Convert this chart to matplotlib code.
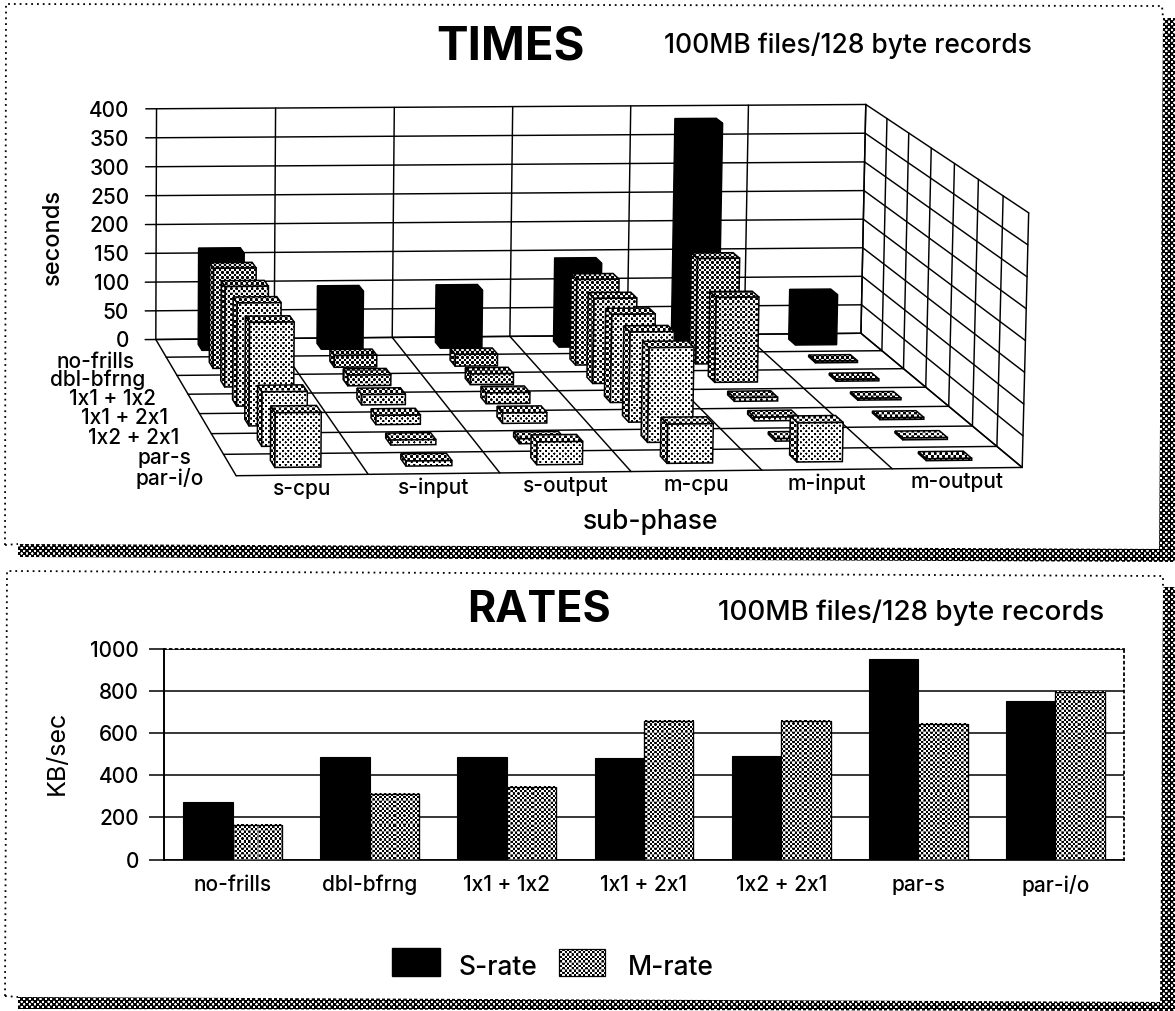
import numpy as np
import matplotlib
matplotlib.use("Agg")
import matplotlib.pyplot as plt
from matplotlib.patches import Polygon, Rectangle

plt.rcParams['font.family'] = ['Inter', 'Liberation Sans', 'DejaVu Sans']
plt.rcParams['font.weight'] = 'medium'

# ------------- data -------------
configs = ['no-frills', 'dbl-bfrng', '1x1 + 1x2', '1x1 + 2x1', '1x2 + 2x1', 'par-s', 'par-i/o']
sub_phases = ['s-cpu', 's-input', 's-output', 'm-cpu', 'm-input', 'm-output']
s_cpu = [167, 170, 168, 170, 168, 87, 86]
s_input = [100, 20, 18, 17, 15, 8, 8]
s_output = [100, 20, 18, 18, 17, 8, 36]
m_cpu = [145, 146, 143, 146, 147, 152, 62]
m_input = [385, 180, 143, 6, 6, 4, 62]
m_output = [87, 3, 3, 3, 3, 3, 3]
s_rate = [272, 486, 485, 483, 490, 952, 753]
m_rate = [162, 310, 345, 660, 657, 643, 796]
time_ticks = [0, 50, 100, 150, 200, 250, 300, 350, 400]
rate_ticks = [0, 200, 400, 600, 800, 1000]

W, H = 1175, 1011
fig = plt.figure(figsize=(W / 100, H / 100), dpi=100, facecolor='white')
canvas = fig.add_axes([0, 0, 1, 1])
canvas.set_xlim(0, W)
canvas.set_ylim(H, 0)
canvas.axis('off')

# ------------- dither helper -------------
_yy, _xx = np.mgrid[0:H, 0:W] + 0.5


def dither(threshold, period):
    g = np.cos(2 * np.pi * _xx / period) * np.cos(2 * np.pi * _yy / period)
    return np.clip(0.5 - (g - threshold) / 0.35, 0, 1)


def fill_dither(poly_pts, threshold, period, z):
    """Polygon in canvas pixels filled with a halftone."""
    pts = np.asarray(poly_pts)
    x0, y0 = np.floor(pts.min(axis=0)).astype(int)
    x1, y1 = np.ceil(pts.max(axis=0)).astype(int)
    x0, y0 = max(x0, 0), max(y0, 0)
    x1, y1 = min(x1, W), min(y1, H)
    arr = dither(threshold, period)[y0:y1, x0:x1]
    patch = Polygon(pts, closed=True, fc='none', ec='none', zorder=z)
    canvas.add_patch(patch)
    im = canvas.imshow(arr, cmap='gray', vmin=0, vmax=1, extent=(x0, x1, y1, y0),
                       interpolation='nearest', aspect='auto', zorder=z)
    im.set_clip_path(patch)


# ------------- frames -------------
band = (-0.25, 5.4)
for pts in ([(18, 544), (1175, 549), (1175, 562), (18, 557)],
            [(1163, 18), (1175, 18), (1175, 560), (1159, 560)],
            [(18, 997), (1175, 1002), (1175, 1011), (18, 1009)],
            [(1163, 587), (1175, 587), (1175, 1011), (1160, 1011)]):
    fill_dither(pts, band[0], band[1], 1)
dots = dict(color='black', lw=1.3, ls=(0, (1, 2.2)), zorder=2)
canvas.plot([5, 6, 1162, 1163], [545, 4, 6, 18], **dots)
canvas.plot([5, 18], [545, 544], **dots)
canvas.plot([5, 7, 1163, 1163], [996, 571, 576, 587], **dots)
canvas.plot([5, 18], [996, 997], **dots)

# ------------- projection for the 3-D chart -------------
n_x, n_d, z_max = len(sub_phases), len(configs), time_ticks[-1]
_world = [(0, 0, 0), (n_x, 0, 0), (0, 0, z_max), (n_x, 0, z_max),
          (0, n_d, 0), (n_x, n_d, 0), (n_x, n_d, z_max)]
_image = [(155.7, 339), (861, 333), (156.4, 109), (866, 105),
          (236.4, 476), (1022, 468), (1028.6, 212)]
_A = []
_b = []
for (u, d, z), (px, py) in zip(_world, _image):
    _A.append([u, d, z, 1, 0, 0, 0, 0, -px * u, -px * d, -px * z])
    _b.append(px)
    _A.append([0, 0, 0, 0, u, d, z, 1, -py * u, -py * d, -py * z])
    _b.append(py)
_sol = np.linalg.lstsq(np.array(_A, float), np.array(_b, float), rcond=None)[0]
P = np.append(_sol, 1.0).reshape(3, 4)


def proj(u, d, z):
    v = P @ np.array([u, d, z, 1.0])
    return v[0] / v[2], v[1] / v[2]


def line3(a, b, lw=1.05, z=3):
    pa, pb = proj(*a), proj(*b)
    canvas.plot([pa[0], pb[0]], [pa[1], pb[1]], color='black', lw=lw, zorder=z,
                solid_capstyle='round')


# grids
for t in time_ticks:
    line3((-0.09, 0, t), (n_x, 0, t))
    line3((n_x, 0, t), (n_x, n_d, t))
for i in range(n_x + 1):
    line3((i, 0, 0), (i, 0, z_max))
    line3((i, 0, 0), (i, n_d, 0))
for j in range(n_d + 1):
    line3((n_x, j, 0), (n_x, j, z_max))
    line3((0, j, 0), (n_x, j, 0))

# bars, back to front
columns = [s_cpu, s_input, s_output, m_cpu, m_input, m_output]
front_t = [None, 0.0, 0.10, 0.20, 0.28, 0.36, 0.36]
side_t = [None, -0.15, -0.08, -0.02, 0.0, 0.05, 0.05]
periods = [None, 5.0, 5.2, 5.4, 5.4, 5.6, 5.6]
U0, U1, D0, D1 = 0.33, 0.68, 0.30, 0.64
zz = 10
for j in range(n_d):
    for i in reversed(range(n_x)):
        h = columns[i][j]
        u0, u1, d0, d1 = i + U0, i + U1, j + D0, j + D1
        front = [proj(u0, d1, 0), proj(u1, d1, 0), proj(u1, d1, h), proj(u0, d1, h)]
        left = [proj(u0, d0, 0), proj(u0, d1, 0), proj(u0, d1, h), proj(u0, d0, h)]
        top = [proj(u0, d0, h), proj(u1, d0, h), proj(u1, d1, h), proj(u0, d1, h)]
        for face, kind in ((left, 's'), (top, 't'), (front, 'f')):
            zz += 1
            if j == 0:
                canvas.add_patch(Polygon(face, closed=True, fc='black', ec='black', lw=1, zorder=zz))
            else:
                t = front_t[j] if kind == 'f' else side_t[j]
                fill_dither(face, t, periods[j], zz)
                canvas.add_patch(Polygon(face, closed=True, fc='none', ec='black', lw=1.1, zorder=zz))

# chart text
tick_fs = 15
canvas.text(511, 47, 'TIMES', fontsize=34, fontweight='bold', ha='center', va='center')
canvas.text(848, 46, '100MB files/128 byte records', fontsize=19, ha='center', va='center')
for t in time_ticks:
    px, py = proj(0, 0, t)
    canvas.text(px - 27, py + 2, str(t), fontsize=tick_fs, ha='right', va='center')
canvas.text(53, 237, 'seconds', fontsize=17, rotation=90, ha='center', va='center')
for j, c in enumerate(configs):
    px, py = proj(0, j + 0.5, 0)
    canvas.text(px - 26, py + 14, c, fontsize=tick_fs, ha='right', va='center')
for i, s in enumerate(sub_phases):
    px, py = proj(i + 0.5, n_d, 0)
    canvas.text(px, py + 14, s, fontsize=tick_fs, ha='center', va='center')
canvas.text(651, 522, 'sub-phase', fontsize=19, ha='center', va='center')

# ------------- rates -------------
L, R, Y0, Y1 = 164, 1124, 859.5, 649
ax = fig.add_axes([L / W, 1 - Y0 / H, (R - L) / W, (Y0 - Y1) / H], zorder=1)
ax.patch.set_alpha(0)
xs = np.arange(len(configs))
bw = 0.36
ax.set_xlim(-0.5, 6.5)
ax.set_ylim(0, rate_ticks[-1])
ax.set_axisbelow(True)
ax.yaxis.grid(True, color='black', lw=1.1)
ax.bar(xs - bw / 2, s_rate, bw, color='black', edgecolor='black', lw=0.8, zorder=3, label='S-rate')
bars = ax.bar(xs + bw / 2, m_rate, bw, color='#777777', edgecolor='black', lw=0.8, zorder=4, label='M-rate')
for b in bars:
    x0, w, v = b.get_x(), b.get_width(), b.get_height()
    wpx = int(round(w * (R - L) / 7))
    hpx = int(round(v * (Y0 - Y1) / rate_ticks[-1]))
    px0 = int(L + (x0 + 0.5) * (R - L) / 7)
    py0 = int(Y0 - hpx)
    arr = dither(0.02, 4.6)[py0:py0 + hpx, px0:px0 + wpx]
    ax.imshow(arr, cmap='gray', vmin=0, vmax=1, extent=(x0, x0 + w, 0, v),
              interpolation='nearest', aspect='auto', zorder=4)
    ax.add_patch(Rectangle((x0, 0), w, v, fc='none', ec='black', lw=0.9, zorder=5))
ax.set_xlim(-0.5, 6.5)
ax.set_ylim(0, rate_ticks[-1])
ax.set_yticks(rate_ticks)
ax.set_xticks(xs)
ax.set_xticklabels(configs, fontsize=tick_fs)
ax.tick_params(axis='y', length=11, width=1.1, labelsize=tick_fs, pad=7)
ax.tick_params(axis='x', length=0, pad=11)
for side in ('top', 'right'):
    ax.spines[side].set_linestyle((0, (1, 2.2)))
    ax.spines[side].set_linewidth(1.3)
ax.spines['left'].set_linewidth(1.4)
ax.spines['bottom'].set_linewidth(1.2)
ax.set_ylabel('KB/sec', fontsize=18)
ax.yaxis.set_label_coords((69 - L) / (R - L), (Y0 - 753) / (Y0 - Y1))
canvas.text(539, 610, 'RATES', fontsize=31, fontweight='bold', ha='center', va='center')
canvas.text(911, 613, '100MB files/128 byte records', fontsize=20, ha='center', va='center')

# legend
canvas.add_patch(Rectangle((392, 948), 48, 28, fc='black', ec='black', zorder=5))
canvas.text(459, 975, 'S-rate', fontsize=19, va='baseline', ha='left')
fill_dither([(559, 949), (605, 949), (605, 976), (559, 976)], 0.02, 4.6, 5)
canvas.add_patch(Rectangle((559, 949), 46, 27, fc='none', ec='black', lw=0.9, zorder=6))
canvas.text(628, 975, 'M-rate', fontsize=19, va='baseline', ha='left')

canvas.set_xlim(0, W)
canvas.set_ylim(H, 0)
fig.savefig('out.png', dpi=100)
